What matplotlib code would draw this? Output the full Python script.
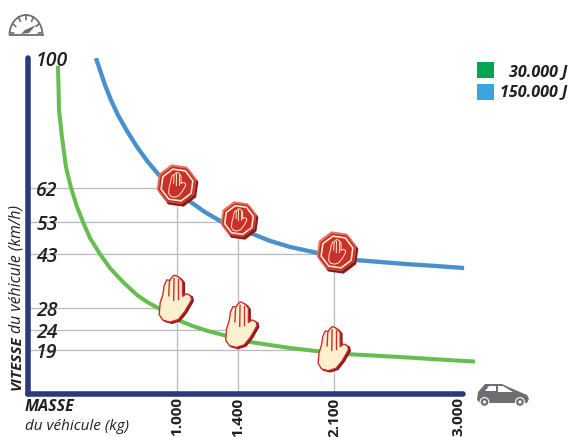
import numpy as np
import matplotlib
matplotlib.use('Agg')
import matplotlib.pyplot as plt
import matplotlib.transforms as mtransforms
from matplotlib.patches import Polygon, RegularPolygon, Circle, Rectangle, Arc

plt.rcParams['font.family'] = ['Open Sans', 'DejaVu Sans']

# values
mass_green = [201, 205, 208, 228, 255, 289, 329, 369, 416, 483, 550, 638, 732, 799, 872,
              940, 1007, 1105, 1203, 1302, 1488, 1633, 1779, 1976, 2197, 2349, 2605, 2834, 3076]
speed_green = [97.7, 91.2, 84.8, 76.9, 68.1, 62, 57, 53, 48, 43, 39.1, 35.2, 31.6, 29.7, 28,
               26.9, 25.8, 24.7, 23.75, 22.75, 21, 20.25, 19.5, 18.5, 17.2, 16.7, 15.8, 14.9, 14]
mass_blue = [456, 483, 517, 557, 604, 664, 732, 805, 879, 973, 1072, 1184, 1295, 1387, 1488,
             1633, 1779, 1983, 2259, 2418, 2605, 2799, 3007]
speed_blue = [100, 96.5, 92.1, 87.7, 83.3, 78.7, 74, 69.6, 65.8, 62, 58.8, 55.6, 53, 51.1, 49.6,
              47.1, 45.2, 43.3, 41.3, 40.8, 40.2, 39.7, 39.1]

mass_ticks = [1000, 1400, 2100, 3000]
mass_labels = ['1.000', '1.400', '2.100', '3.000']
speed_ticks = [100, 62, 53, 43, 28, 24, 19]
mass_marks = [1000, 1400, 2100]
speed_stop = [62, 53, 43]
speed_hand = [28, 24, 19]
legend_labels = ['30.000 J', '150.000 J']

GREEN = '#66bd50'
BLUE = '#4a90cd'
NAVY = '#2b3a7c'
GRID = '#b9b9bd'
INK = '#231f20'
ICON = '#6d6e71'

# the axes of the original are not linear: knots of kg / km/h to drawn distance
mass_knots = [0, 1000, 1400, 2100, 3000, 3076]
mass_dist = [0, 149, 210, 306, 435, 447]
speed_knots = [0, 19, 24, 28, 43, 53, 62, 100]
speed_dist = [0, 44, 64, 86, 140, 172, 206, 336]

fig = plt.figure(figsize=(5.7, 4.37), dpi=100)
ax = fig.add_axes([28 / 570, (437 - 394) / 437, 447 / 570, 336 / 437])
ax.patch.set_visible(False)

ax.set_xscale('function', functions=(lambda v: np.interp(v, mass_knots, mass_dist),
                                     lambda v: np.interp(v, mass_dist, mass_knots)))
ax.set_yscale('function', functions=(lambda v: np.interp(v, speed_knots, speed_dist),
                                     lambda v: np.interp(v, speed_dist, speed_knots)))
ax.set_xlim(0, 3076)
ax.set_ylim(0, 100)

# guide lines
for m, vs, vh in zip(mass_marks, speed_stop, speed_hand):
    ax.plot([m, m], [0, vs], color=GRID, lw=0.9, zorder=1)
    ax.plot([0, m], [vs, vs], color=GRID, lw=0.9, zorder=1)
    ax.plot([0, m], [vh, vh], color=GRID, lw=0.9, zorder=1)

ax.plot(mass_green, speed_green, color=GREEN, lw=2.9, zorder=2, solid_capstyle='butt')
ax.plot(mass_blue, speed_blue, color=BLUE, lw=3.1, zorder=2, solid_capstyle='butt')

for side in ['top', 'right']:
    ax.spines[side].set_visible(False)
for side in ['left', 'bottom']:
    ax.spines[side].set_color(NAVY)
    ax.spines[side].set_linewidth(4.0)
    ax.spines[side].set_capstyle('round')
ax.spines['bottom'].set_bounds(0, 3000)

ax.set_yticks(speed_ticks)
ax.set_yticklabels([str(v) for v in speed_ticks], ha='left', fontsize=14,
                   fontstyle='italic', fontweight='semibold', color=INK)
ax.tick_params(axis='y', length=0, pad=-5.8)
ax.set_xticks(mass_ticks)
ax.set_xticklabels(mass_labels, rotation=90, va='top', fontsize=11,
                   fontweight='bold', color=INK)
ax.tick_params(axis='x', length=0, pad=2.5)
ax.minorticks_off()
shift = mtransforms.ScaledTranslation(-5 / 100, 0, fig.dpi_scale_trans)
last = ax.get_xticklabels()[-1]
last.set_transform(last.get_transform() + shift)

# overlay in picture pixels for icons and free text
deco = fig.add_axes([0, 0, 1, 1], zorder=5)
deco.set_xlim(0, 570)
deco.set_ylim(437, 0)
deco.axis('off')


def to_px(m, v):
    x, y = ax.transData.transform((m, v))
    return x, 437 - y


HAND = np.array([(27, 135), (30, 100), (38, 75), (42, 48), (50, 30), (57, 31), (60, 32), (63, 25),
                 (72, 16), (80, 18), (90, 25), (98, 35), (98, 80), (110, 72), (122, 78),
                 (125, 90), (105, 125), (85, 150), (60, 158), (38, 152)], dtype=float)
HAND -= (75, 88)
FINGERS = [((58, 36), (56, 78)), ((72, 26), (71, 92)), ((85, 28), (85, 88))]


def draw_hand(cx, cy, s, face, edge, lw, shadow=None, z=6):
    pts = HAND * s + (cx, cy)
    if shadow:
        deco.add_patch(Polygon(pts + (1.8, 1.2), closed=True, fc=shadow, ec=shadow, lw=lw, zorder=z))
    deco.add_patch(Polygon(pts, closed=True, fc=face, ec=edge, lw=lw, zorder=z + 0.1, joinstyle='round'))
    for a, b in FINGERS:
        a = (np.array(a) - (75, 88)) * s + (cx, cy)
        b = (np.array(b) - (75, 88)) * s + (cx, cy)
        deco.plot([a[0], b[0]], [a[1], b[1]], color=edge, lw=lw, zorder=z + 0.2)


def draw_stop(cx, cy, r):
    tilt = np.pi / 8 + 0.14
    deco.add_patch(RegularPolygon((cx + 1.5, cy + 1.8), 8, radius=r, orientation=tilt,
                                  fc='#8a1a1d', ec='none', zorder=6))
    deco.add_patch(RegularPolygon((cx - 0.5, cy - 0.8), 8, radius=r, orientation=tilt,
                                  fc='#e9705f', ec='none', zorder=6.1))
    deco.add_patch(RegularPolygon((cx, cy), 8, radius=r * 0.93, orientation=tilt,
                                  fc='#c22b2a', ec='none', zorder=6.2))
    deco.add_patch(RegularPolygon((cx, cy), 8, radius=r * 0.80, orientation=tilt,
                                  fc='#c9302c', ec='#fbe9c3', lw=1.2, zorder=6.3))
    draw_hand(cx, cy, r * 0.0085, 'none', '#fbe9c3', 0.7, z=6.4)


# icons sit a little off the exact crossing in the original
stop_offsets = [(0, -3), (1, -2), (3, -2)]
stop_sizes = [20.5, 18.5, 20.5]
hand_offsets = [(-2, -9), (3, -5), (-1, -1)]
hand_sizes = [0.33, 0.32, 0.31]
for i, m in enumerate(mass_marks):
    x, y = to_px(m, speed_stop[i])
    draw_stop(x + stop_offsets[i][0], y + stop_offsets[i][1], stop_sizes[i])
    x, y = to_px(m, speed_hand[i])
    draw_hand(x + hand_offsets[i][0], y + hand_offsets[i][1], hand_sizes[i],
              '#fdf0cf', '#c9302c', 1.0, shadow='#8a1a1d')

# legend
deco.add_patch(Rectangle((477, 62), 17, 16, fc='#00a651', ec='none'))
deco.add_patch(Rectangle((477, 84), 17, 16, fc='#3aa5dc', ec='none'))
for y, label in zip([72, 92], legend_labels):
    deco.text(567, y, label, ha='right', va='center', fontsize=11.5,
              fontstyle='italic', fontweight='bold', color=INK)

# axis titles
deco.text(25, 407, 'MASSE', ha='left', va='center', fontsize=11.5,
          fontstyle='italic', fontweight='bold', color=INK)
deco.text(25, 427, 'du véhicule (kg)', ha='left', va='center', fontsize=11,
          fontstyle='italic', color=INK)
deco.text(17, 390, 'VITESSE', rotation=90, ha='center', va='bottom', fontsize=11,
          fontstyle='italic', fontweight='bold', color=INK)
deco.text(17, 333, 'du véhicule (km/h)', rotation=90, ha='center', va='bottom', fontsize=11.3,
          fontstyle='italic', color=INK)

# gauge icon
deco.add_patch(Arc((26, 35), 33, 40, theta1=180, theta2=360, color=ICON, lw=1.3))
deco.plot([9.5, 42.5], [35, 35], color=ICON, lw=1.3)
for a in [0.12, 0.6, 1.1, 1.57, 2.05, 2.55, 3.02]:
    c, s = np.cos(a), np.sin(a)
    deco.plot([26 + 12.5 * c, 26 + 16 * c], [35 - 15.5 * s, 35 - 20 * s], color=ICON, lw=1.2)
deco.add_patch(Polygon([(21, 34), (25, 30), (36, 25), (29, 33)], closed=True, fc=ICON, ec='none'))

# car icon
deco.add_patch(Polygon([(477, 400), (478, 392), (485, 384), (502, 384), (513, 389), (527, 395),
                        (529, 399), (527, 403), (480, 403)], closed=True, fc=ICON, ec='none'))
deco.add_patch(Polygon([(485, 391), (489, 386), (496, 386), (496, 391)], closed=True, fc='white', ec='none'))
deco.add_patch(Polygon([(498, 386), (503, 386), (513, 392), (498, 392)], closed=True, fc='white', ec='none'))
for x in [484.5, 520]:
    deco.add_patch(Circle((x, 402), 4.4, fc=ICON, ec='white', lw=0.8))
    deco.add_patch(Circle((x, 402), 1.6, fc='white', ec='none'))

fig.savefig('out.png', dpi=100)
